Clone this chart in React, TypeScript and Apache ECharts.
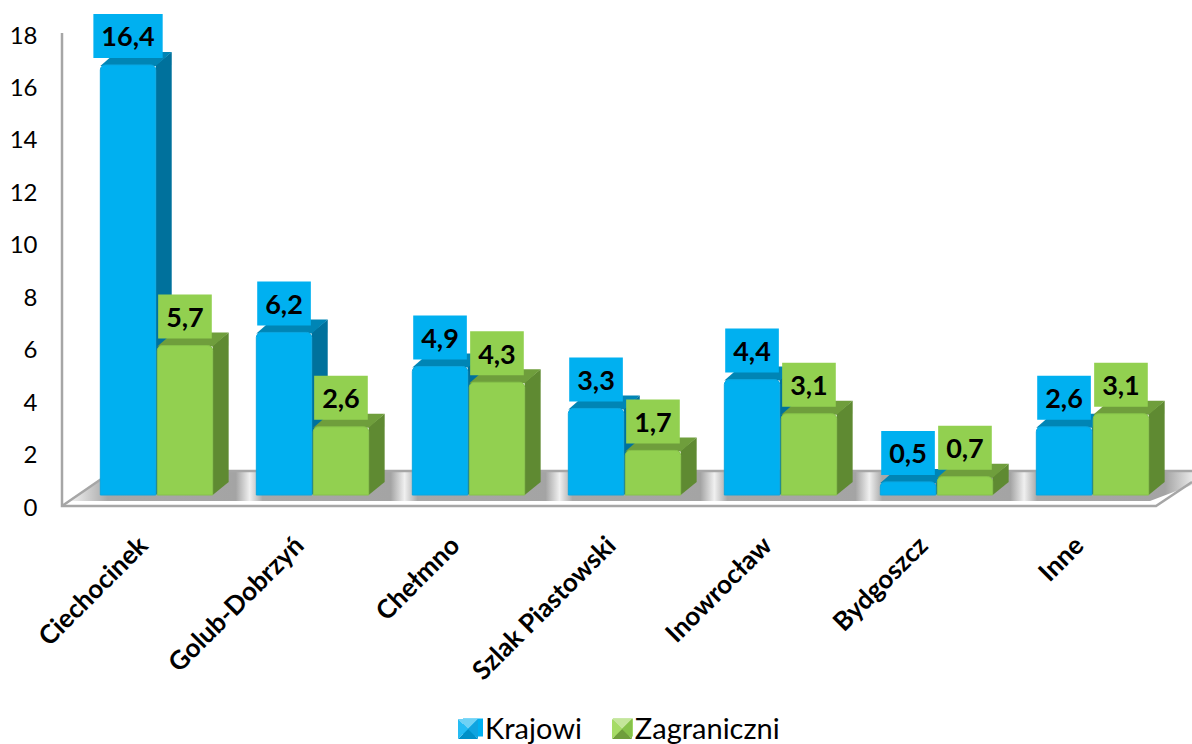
import React, { useEffect, useRef } from "react";
import * as echarts from "echarts";

const categories = ["Ciechocinek", "Golub-Dobrzyń", "Chełmno", "Szlak Piastowski", "Inowrocław", "Bydgoszcz", "Inne"];
const krajowi = [16.4, 6.2, 4.9, 3.3, 4.4, 0.5, 2.6];
const zagraniczni = [5.7, 2.6, 4.3, 1.7, 3.1, 0.7, 3.1];
const yMax = 18;
const yInterval = 2;
const FONT = "Lato, Carlito, Calibri, sans-serif";

const BLUE = { front: "#00b0f0", edge: "#0aa6e0", top: "#0085b5", side: "#00719c", name: "Krajowi" };
const GREEN = { front: "#92d050", edge: "#86c24a", top: "#6f9e3c", side: "#5f8a32", name: "Zagraniczni" };

const LIFT = 11; // bars stand on the floor, above the axis' zero line
const DX = 16;
const DY = -13;

function makeRender(pal: typeof BLUE, side: number) {
  return (params: any, api: any) => {
    const i = api.value(0);
    const v = api.value(1);
    const band = api.size([1, 0])[0];
    const w = band * 0.355;
    const c0 = api.coord([i, 0]);
    const c1 = api.coord([i, v]);
    const x = c0[0] + side * band * 0.1825 - w / 2;
    const yb = c0[1] - LIFT;
    const yt = c1[1] - LIFT;
    const label = String(v).replace(".", ",");
    return {
      type: "group",
      children: [
        {
          type: "polygon",
          shape: { points: [[x + w, yt], [x + w + DX, yt + DY], [x + w + DX, yb + DY], [x + w, yb]] },
          style: { fill: pal.side },
        },
        {
          type: "polygon",
          shape: { points: [[x, yt + 1], [x + DX, yt + DY], [x + w + DX, yt + DY], [x + w, yt + 1]] },
          style: { fill: pal.top },
        },
        {
          type: "rect",
          shape: { x, y: yt, width: w, height: yb - yt, r: [5, 5, 0, 0] },
          style: { fill: pal.front, stroke: pal.edge, lineWidth: 1 },
        },
        {
          type: "text",
          z2: 100,
          style: {
            text: label,
            x: x + w / 2,
            y: yt - 7,
            align: "center",
            verticalAlign: "bottom",
            fill: "#000",
            font: `bold 27px ${FONT}`,
            backgroundColor: pal.front,
            padding: [9, 8, 9, 8],
            lineHeight: 26,
          },
        },
      ],
    };
  };
}

function floorStops() {
  const stops: any[] = [];
  const L = 62;
  const W = 1130;
  const add = (px: number, c: string) => stops.push({ offset: Math.min(1, Math.max(0, (px - L) / W)), color: c });
  add(62, "#f2f2f2");
  add(100, "#a8a8a8");
  for (let k = 0; k < 6; k++) {
    add(229 + 156 * k, "#a4a4a4");
    add(243 + 156 * k, "#f0f0f0");
    add(256 + 156 * k, "#a8a8a8");
  }
  add(1165, "#a4a4a4");
  add(1192, "#e8e8e8");
  return stops;
}

function bevel(x: number, y: number, s: number, c: string[]) {
  const m = [x + s / 2, y + s / 2];
  const tri = (a: number[], b: number[], fill: string) => ({
    type: "polygon",
    z: 20,
    shape: { points: [a, b, m] },
    style: { fill },
  });
  return [
    tri([x, y], [x + s, y], c[0]),
    tri([x + s, y], [x + s, y + s], c[1]),
    tri([x + s, y + s], [x, y + s], c[2]),
    tri([x, y + s], [x, y], c[3]),
  ];
}

export default function App() {
  const ref = useRef<HTMLDivElement>(null);
  useEffect(() => {
    document.body.style.margin = "0";
    const chart = echarts.init(ref.current!, null, { renderer: "svg" });
    const line = (pts: number[][], w = 2.5, c = "#a6a6a6") => ({
      type: "polyline",
      z: 1,
      shape: { points: pts },
      style: { stroke: c, lineWidth: w, fill: "none" },
    });
    chart.setOption({
      animation: false,
      backgroundColor: "#fff",
      grid: { left: 78.5, width: 1092, top: 34, height: 472, containLabel: false },
      xAxis: {
        type: "category",
        data: categories,
        axisLine: { show: false },
        axisTick: { show: false },
        axisLabel: {
          rotate: 45,
          interval: 0,
          margin: 20,
          padding: [0, 20, 0, 0],
          fontFamily: FONT,
          fontWeight: "bold",
          fontSize: 26,
          color: "#000",
        },
      },
      yAxis: {
        type: "value",
        min: 0,
        max: yMax,
        interval: yInterval,
        axisLine: { show: false },
        axisTick: { show: false },
        splitLine: { show: false },
        axisLabel: { margin: 41, fontFamily: FONT, fontSize: 24, color: "#000" },
      },
      legend: {
        left: 458,
        top: 708,
        itemWidth: 20,
        itemHeight: 18,
        itemGap: 31,
        icon: "rect",
        textStyle: { fontFamily: FONT, fontSize: 29, lineHeight: 28, color: "#000", padding: [0, 0, 0, -3] },
        data: [BLUE.name, GREEN.name],
      },
      graphic: [
        {
          type: "polygon",
          z: 0,
          shape: { points: [[70, 501], [113, 472], [1192, 472], [1192, 485], [1150, 501]] },
          style: {
            fill: new echarts.graphic.LinearGradient(0, 0, 1, 0, floorStops()),
          },
        },
        line([[62, 33], [62, 506], [1156, 506], [1192, 482]]),
        line([[62, 506], [113, 471], [1192, 471]]),
        ...bevel(458, 719, 20, ["#6fd2f5", "#10a4e0", "#0090c8", "#25bcf4"]),
        ...bevel(612, 719, 20, ["#c4e69a", "#86c24a", "#6f9e3c", "#a6dc66"]),
      ],
      series: [
        {
          type: "custom",
          name: BLUE.name,
          clip: false,
          itemStyle: { color: BLUE.front },
          encode: { x: 0, y: 1 },
          data: krajowi.map((v, i) => [i, v]),
          renderItem: makeRender(BLUE, -1),
        },
        {
          type: "custom",
          name: GREEN.name,
          clip: false,
          itemStyle: { color: GREEN.front },
          encode: { x: 0, y: 1 },
          data: zagraniczni.map((v, i) => [i, v]),
          renderItem: makeRender(GREEN, 1),
        },
      ],
    });
    return () => chart.dispose();
  }, []);
  return <div ref={ref} style={{ position: "fixed", left: 0, top: 0, width: 1192, height: 744 }} />;
}
